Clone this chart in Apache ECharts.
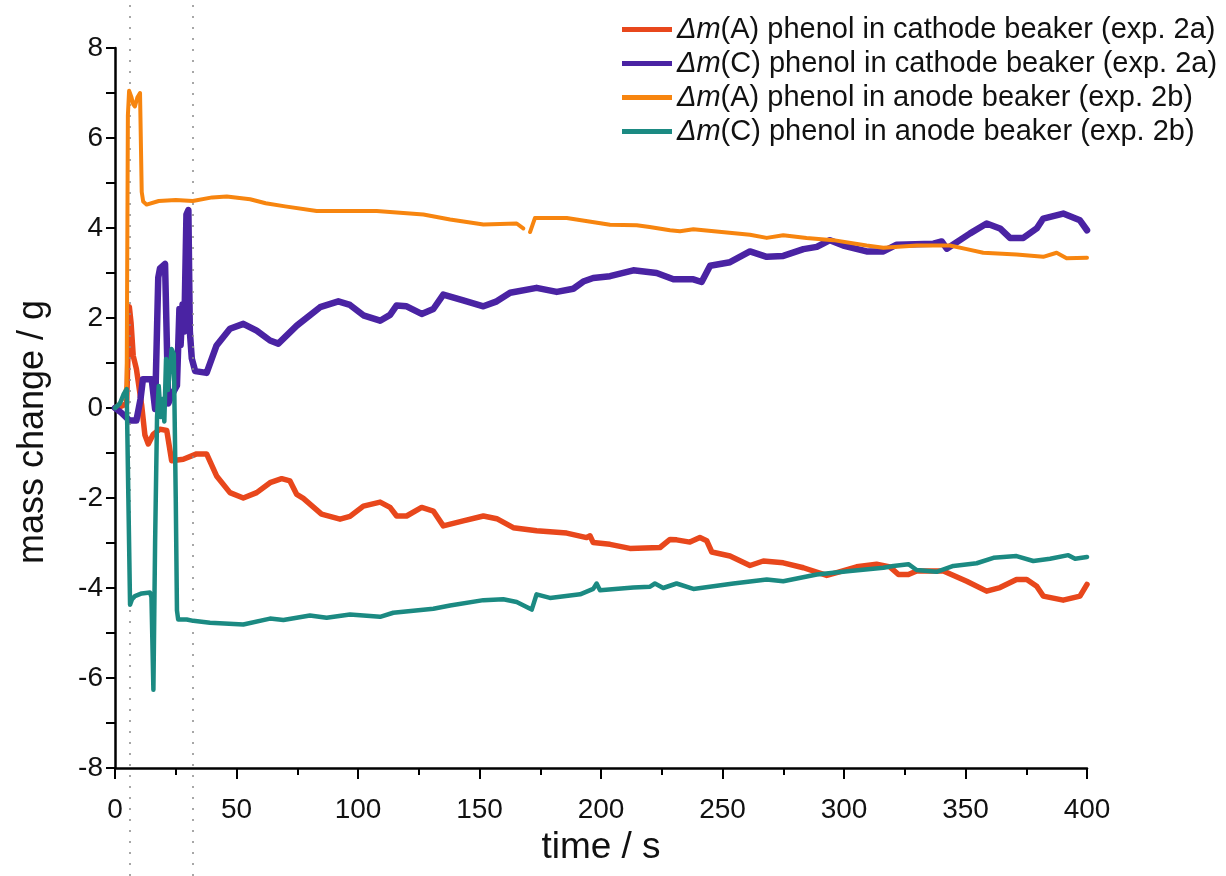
<!DOCTYPE html>
<html>
<head>
<meta charset="utf-8">
<script src="https://cdn.jsdelivr.net/npm/echarts@6/dist/echarts.min.js"></script>
<style>
html,body{margin:0;padding:0;background:#fff;}
#c{width:1226px;height:876px;}
</style>
</head>
<body>
<div id="c"></div>
<script>
// ---- data: [time (s), mass change (g)] ----
const seriesNames = [
  'Δm(A) phenol in cathode beaker (exp. 2a)',
  'Δm(C) phenol in cathode beaker (exp. 2a)',
  'Δm(A) phenol in anode beaker (exp. 2b)',
  'Δm(C) phenol in anode beaker (exp. 2b)'
];
const seriesColors = ['#E8471C', '#4A23A3', '#F7850F', '#1B8A82'];

const anodeMassCathode2a = [[0,0],[3,0.05],[4.8,0.1],[5.5,1.5],[5.9,2.25],[6.6,1.9],[7.5,1.16],[8.8,0.87],[11,0.05],[12.3,-0.6],[13.7,-0.8],[15.8,-0.58],[18.5,-0.47],[21.3,-0.5],[23.3,-1.17],[28.1,-1.14],[33.6,-1.02],[37.7,-1.02],[41.8,-1.51],[47.3,-1.88],[52.8,-2.0],[58.3,-1.88],[63.8,-1.66],[68.6,-1.57],[72,-1.62],[74.8,-1.92],[77.5,-2.01],[85,-2.36],[92.6,-2.47],[96.7,-2.41],[102.2,-2.18],[109.1,-2.09],[113.2,-2.21],[115.9,-2.4],[120,-2.4],[126.2,-2.21],[131,-2.29],[135.1,-2.62],[143.3,-2.51],[151.6,-2.4],[157.1,-2.46],[163.9,-2.66],[173.5,-2.73],[185.9,-2.78],[194.1,-2.88],[195.5,-2.84],[196.8,-2.99],[203.7,-3.03],[211.9,-3.12],[224.3,-3.1],[228.4,-2.92],[231.1,-2.93],[236.6,-2.98],[240.7,-2.88],[243.5,-2.95],[245.6,-3.2],[253.1,-3.29],[261.3,-3.5],[266.8,-3.4],[275,-3.44],[283.3,-3.55],[292.9,-3.72],[297,-3.66],[305.2,-3.53],[313.4,-3.47],[318.9,-3.53],[322.4,-3.7],[326.5,-3.7],[329.9,-3.62],[340.9,-3.62],[350.5,-3.85],[358.7,-4.07],[364.2,-3.99],[371,-3.81],[375.2,-3.81],[379.3,-3.96],[382,-4.18],[390.2,-4.27],[397.1,-4.18],[400,-3.92]];

const cathodeMassCathode2a = [[0,0],[2.5,-0.1],[6,-0.28],[8.8,-0.28],[10.5,0.2],[11.5,0.64],[15.1,0.64],[16.5,-0.02],[17.8,2.9],[18.5,3.1],[20.6,3.2],[21.9,0.1],[23.5,0.3],[25.5,0.5],[26.5,2.2],[27,1.4],[27.8,2.3],[28.5,1.7],[29.4,4.3],[30.2,4.4],[30.8,1.7],[31.6,1.1],[33,0.82],[37.7,0.78],[41.8,1.39],[47.3,1.76],[52.8,1.87],[58.3,1.72],[63.8,1.5],[67.2,1.43],[74.8,1.83],[84.4,2.24],[91.9,2.37],[96.7,2.29],[102.2,2.06],[109.1,1.94],[113.2,2.07],[115.9,2.28],[120,2.26],[126.2,2.09],[131,2.2],[135.1,2.52],[143.3,2.39],[151.6,2.26],[157.1,2.37],[162.6,2.56],[173.5,2.67],[181.8,2.58],[188.6,2.65],[192.7,2.81],[196.8,2.89],[203.7,2.93],[213.3,3.06],[222.9,3.0],[229.8,2.86],[238,2.86],[241.4,2.8],[244.9,3.16],[253.1,3.24],[261.3,3.48],[268.2,3.36],[275,3.38],[283.3,3.53],[288.8,3.58],[294.2,3.73],[299.7,3.61],[309.3,3.48],[316.2,3.48],[321.7,3.63],[336.8,3.65],[340.2,3.7],[342.3,3.54],[351.9,3.88],[358.7,4.1],[364.2,3.99],[368.3,3.78],[373.8,3.78],[379.3,3.99],[382,4.21],[390.2,4.32],[397.1,4.17],[400,3.95]];

const anodeMassAnode2b = [[0,0],[2,0.1],[4,0.3],[4.8,0.5],[5.3,6.5],[5.8,7.05],[6.8,6.9],[7.5,6.75],[8.2,6.7],[9.2,6.9],[10.3,7.0],[11,4.8],[11.6,4.59],[13,4.52],[18,4.6],[25,4.62],[32,4.6],[40,4.68],[46,4.7],[55.6,4.64],[62,4.55],[70,4.48],[83,4.38],[95,4.38],[107.7,4.38],[126.9,4.3],[137.9,4.19],[151.6,4.08],[165.3,4.1],[168,3.99],[169,'-'],[170.8,3.91],[172.8,4.22],[185.9,4.22],[203.7,4.07],[214.7,4.06],[220,4.02],[228.4,3.95],[232.5,3.93],[238,3.97],[261.3,3.85],[268.2,3.78],[275,3.84],[284.6,3.78],[295.6,3.73],[309.3,3.61],[316.2,3.56],[329.9,3.61],[343.6,3.61],[350.5,3.53],[357.3,3.45],[371,3.41],[382,3.36],[387.5,3.45],[391.6,3.33],[400,3.34]];

const cathodeMassAnode2b = [[0,0],[2,0.1],[3.5,0.3],[4.8,0.42],[5.5,-2],[6.2,-4.37],[7,-4.25],[8.2,-4.18],[11,-4.12],[14.4,-4.1],[15,-4.2],[15.8,-6.26],[16.5,-3],[17.3,-0.2],[18,0.49],[18.8,-0.2],[19.5,0.2],[20.3,-0.3],[21,1.09],[21.8,0.4],[22.5,0.8],[23.3,1.31],[24.2,1.2],[25,-2],[25.5,-4.5],[26,-4.7],[29.5,-4.7],[32.2,-4.73],[39.1,-4.77],[52.8,-4.81],[63.8,-4.68],[69.3,-4.71],[80.2,-4.61],[87.1,-4.66],[96.7,-4.59],[109.1,-4.64],[114.5,-4.55],[131,-4.46],[137.9,-4.39],[151.6,-4.27],[159.8,-4.25],[165.3,-4.31],[169.4,-4.42],[171.5,-4.48],[173.5,-4.14],[179,-4.22],[191.4,-4.14],[196.8,-4.02],[198.2,-3.9],[199.6,-4.05],[213.3,-3.99],[220.2,-3.97],[222.2,-3.9],[225.6,-4.0],[231.1,-3.9],[238,-4.02],[254.5,-3.9],[268.2,-3.81],[275,-3.85],[288.8,-3.7],[302.5,-3.62],[316.2,-3.55],[320.3,-3.51],[326.5,-3.47],[329.9,-3.6],[338.1,-3.64],[345,-3.51],[354.6,-3.45],[361.5,-3.33],[371,-3.29],[377.9,-3.4],[384.8,-3.35],[392.3,-3.27],[395.1,-3.35],[400,-3.31]];

const markerTimes = [6.2, 32.2];
const xTicks = {min: 0, max: 400, interval: 50};
const yTicks = {min: -8, max: 8, interval: 2};

// ---- chart ----
const FONT = 'Liberation Sans, Arial, sans-serif';
const chart = echarts.init(document.getElementById('c'), null, {renderer: 'canvas'});
const seriesData = [anodeMassCathode2a, cathodeMassCathode2a, anodeMassAnode2b, cathodeMassAnode2b];
const widths = [5.5, 6.5, 4, 4.5];

const lineSeries = seriesData.map((d, i) => ({
  name: seriesNames[i],
  type: 'line',
  xAxisIndex: 0, yAxisIndex: 0,
  data: d,
  showSymbol: false,
  symbol: 'none',
  connectNulls: false,
  lineStyle: {color: seriesColors[i], width: widths[i], join: 'round', cap: 'round'},
  itemStyle: {color: seriesColors[i]},
  emphasis: {disabled: true},
  z: 3 + i
}));

lineSeries.unshift({
  type: 'line',
  xAxisIndex: 1, yAxisIndex: 1,
  data: [],
  silent: true,
  z: 10,
  markLine: {
    silent: true,
    symbol: ['none', 'none'],
    label: {show: false},
    lineStyle: {color: '#8a8a8a', width: 1.5, type: [2, 9]},
    data: markerTimes.map(t => ({xAxis: t}))
  }
});

const option = {
  backgroundColor: '#fff',
  animation: false,
  textStyle: {fontFamily: FONT},
  grid: [
    {left: 115, right: 139, top: 48, bottom: 108},
    {left: 115, right: 139, top: 0, bottom: 0}
  ],
  legend: {
    data: seriesNames,
    orient: 'vertical',
    left: 617,
    top: 10,
    itemWidth: 50,
    itemHeight: 5,
    itemGap: 5,
    icon: 'rect',
    textStyle: {
      fontSize: 29, color: '#111', fontFamily: FONT,
      rich: {i: {fontSize: 29, fontStyle: 'italic', color: '#111', fontFamily: FONT}}
    },
    formatter: n => n.replace('Δm', '{i|Δm}')
  },
  xAxis: [{
    type: 'value',
    gridIndex: 0,
    min: xTicks.min, max: xTicks.max, interval: xTicks.interval,
    name: 'time / s',
    nameLocation: 'middle',
    nameGap: 58,
    nameTextStyle: {fontSize: 37, color: '#111', fontFamily: FONT},
    axisLine: {onZero: false, lineStyle: {color: '#000', width: 2.5}},
    axisTick: {length: 11, lineStyle: {color: '#000', width: 2}},
    minorTick: {show: true, splitNumber: 2, length: 7, lineStyle: {color: '#000', width: 2}},
    splitLine: {show: false},
    axisLabel: {fontSize: 28, color: '#111', margin: 28, fontFamily: FONT}
  }, {
    type: 'value', gridIndex: 1, min: xTicks.min, max: xTicks.max, show: false
  }],
  yAxis: [{
    type: 'value',
    gridIndex: 0,
    min: yTicks.min, max: yTicks.max, interval: yTicks.interval,
    name: 'mass change / g',
    nameLocation: 'middle',
    nameGap: 64,
    nameTextStyle: {fontSize: 36, color: '#111', fontFamily: FONT, padding: [0, 48, 0, 0]},
    axisLine: {onZero: false, lineStyle: {color: '#000', width: 2.5}},
    axisTick: {length: 9, lineStyle: {color: '#000', width: 2}},
    minorTick: {show: true, splitNumber: 2, length: 9, lineStyle: {color: '#000', width: 2}},
    splitLine: {show: false},
    axisLabel: {fontSize: 28, color: '#111', margin: 12, fontFamily: FONT}
  }, {
    type: 'value', gridIndex: 1, min: 0, max: 1, show: false
  }],
  series: lineSeries
};
chart.setOption(option);
</script>
</body>
</html>
